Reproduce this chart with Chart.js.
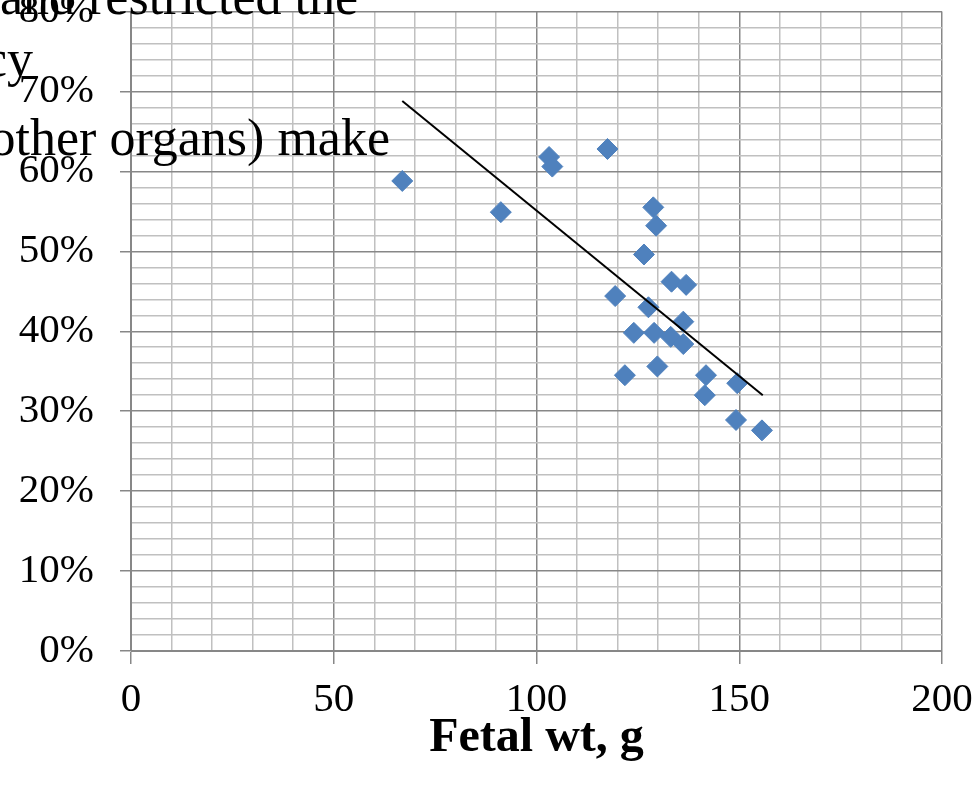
<!DOCTYPE html>
<html>
<head>
<meta charset="utf-8">
<script src="https://cdn.jsdelivr.net/npm/chart.js@4"></script>
<style>
  html, body { margin: 0; padding: 0; background: #ffffff; }
  #wrap { width: 979px; height: 788px; position: relative; }
</style>
</head>
<body>
<div id="wrap"><canvas id="c" width="979" height="788"></canvas></div>
<script>
// Fetal weight (g)
const fetalWt = [66.9, 91.2, 103.1, 103.9, 117.5, 128.8, 129.5, 126.5, 133.3, 136.9, 119.4, 127.6,
                 136.2, 124.0, 129.0, 133.1, 136.2, 129.8, 121.8, 141.8, 149.5, 141.5, 149.2, 155.6];
// Percentage (%)
const pctValues = [58.8, 54.9, 61.8, 60.6, 62.8, 55.5, 53.2, 49.6, 46.2, 45.8, 44.4, 43.0,
                   41.2, 39.8, 39.8, 39.3, 38.4, 35.6, 34.5, 34.5, 33.5, 32.0, 28.9, 27.6];
// Linear trendline end points
const trendX = [66.9, 155.8];
const trendY = [68.8, 32.0];
// Axis label steps
const xTickLabels = [0, 50, 100, 150, 200];
const yTickLabels = [0, 10, 20, 30, 40, 50, 60, 70, 80];
const xTitle = 'Fetal wt, g';
// Fragments of document text overlapping the chart
const overlayLines = ['and restricted the', 'cy', 'other organs) make'];

const points = fetalWt.map((x, i) => ({ x: x, y: pctValues[i] }));
const trend = trendX.map((x, i) => ({ x: x, y: trendY[i] }));

const MAJOR = '#878787';
const MINOR = '#c0c0c0';
const SERIF = '"Liberation Serif", "Times New Roman", serif';

const overlayPlugin = {
  id: 'overlayText',
  afterDraw(chart) {
    const ctx = chart.ctx;
    ctx.save();
    ctx.fillStyle = '#000';
    ctx.font = '52px ' + SERIF;
    ctx.textAlign = 'right';
    ctx.textBaseline = 'alphabetic';
    const rights = [358, 33, 390];
    const bases = [14, 76, 155];
    overlayLines.forEach((t, i) => ctx.fillText(t, rights[i], bases[i]));
    ctx.restore();
  }
};

new Chart(document.getElementById('c'), {
  type: 'scatter',
  data: {
    datasets: [
      {
        label: 'data',
        data: points,
        pointStyle: 'rectRot',
        pointRadius: 10.5,
        pointHoverRadius: 10.5,
        backgroundColor: '#4f81bd',
        borderColor: '#4f81bd',
        borderWidth: 1,
        order: 2
      },
      {
        label: 'trend',
        type: 'line',
        data: trend,
        showLine: true,
        borderColor: '#000000',
        borderWidth: 2,
        pointRadius: 0,
        fill: false,
        order: 1
      }
    ]
  },
  options: {
    responsive: false,
    animation: false,
    devicePixelRatio: 1,
    layout: { padding: { top: 8, right: 37, left: 0, bottom: 0 } },
    plugins: { legend: { display: false }, tooltip: { enabled: false } },
    scales: {
      x: {
        type: 'linear',
        min: 0, max: 200,
        afterFit(s) { s.height = 137; s.paddingLeft = 0; s.paddingRight = 0; },
        border: { display: true, color: MAJOR, width: 1 },
        grid: {
          color: c => (xTickLabels.includes(c.tick.value) ? MAJOR : MINOR),
          tickColor: c => (xTickLabels.includes(c.tick.value) ? MAJOR : 'rgba(0,0,0,0)'),
          lineWidth: 1.5,
          tickLength: 13
        },
        ticks: {
          stepSize: 10,
          autoSkip: false,
          maxRotation: 0,
          padding: 12,
          color: '#000',
          font: { family: SERIF, size: 41 },
          callback: v => (xTickLabels.includes(v) ? String(v) : '')
        },
        title: {
          display: true,
          text: xTitle,
          color: '#000',
          font: { family: SERIF, size: 48, weight: 'bold' },
          padding: { top: 0, bottom: 21 }
        }
      },
      y: {
        type: 'linear',
        min: 0, max: 80,
        afterFit(s) { s.width = 131; s.paddingTop = 0; s.paddingBottom = 0; },
        border: { display: true, color: MAJOR, width: 1 },
        grid: {
          color: c => (yTickLabels.includes(c.tick.value) ? MAJOR : MINOR),
          tickColor: c => (yTickLabels.includes(c.tick.value) ? MAJOR : 'rgba(0,0,0,0)'),
          lineWidth: 1.5,
          tickLength: 11
        },
        ticks: {
          stepSize: 2,
          autoSkip: false,
          padding: 26,
          color: '#000',
          font: { family: SERIF, size: 41 },
          callback: v => (yTickLabels.includes(v) ? v + '%' : '')
        }
      }
    }
  },
  plugins: [overlayPlugin]
});
</script>
</body>
</html>
